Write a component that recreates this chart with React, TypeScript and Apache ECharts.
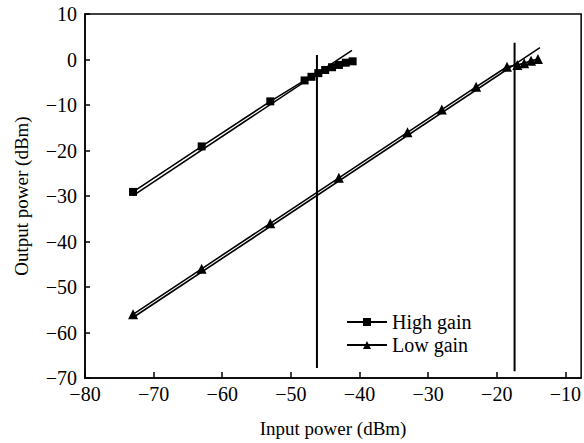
import React, { useEffect, useRef } from "react";
import * as echarts from "echarts";

const highGainX = [-73, -63, -53, -48, -47, -46, -45, -44, -43, -42, -41];
const highGainY = [-29.1, -19.1, -9.2, -4.6, -3.8, -3.0, -2.3, -1.7, -1.2, -0.7, -0.4];
const lowGainX = [-73, -63, -53, -43, -33, -28, -23, -18.5, -17, -16, -15, -14];
const lowGainY = [-56, -46, -36, -26, -16, -11, -6, -1.6, -1.2, -0.8, -0.3, 0.1];
const highFitX = [-73, -41.1];
const highFitY = [-29.9, 2.0];
const lowFitX = [-73, -13.7];
const lowFitY = [-56.7, 2.6];
const vLine1X = [-46.2, -46.2];
const vLine1Y = [1.0, -67.8];
const vLine2X = [-17.4, -17.4];
const vLine2Y = [3.7, -68.5];
const xTicks = [-80, -70, -60, -50, -40, -30, -20, -10];
const yTicks = [-70, -60, -50, -40, -30, -20, -10, 0, 10];

const zip = (xs: number[], ys: number[]) => xs.map((x, i) => [x, ys[i]]);
const FONT = "'Liberation Serif', 'Times New Roman', serif";
const fmt = (v: number) => String(v).replace("-", "\u2212");

export default function App() {
  const ref = useRef<HTMLDivElement>(null);
  useEffect(() => {
    if (!ref.current) return;
    const chart = echarts.init(ref.current, undefined, { renderer: "svg" });
    const plain = (data: number[][], width = 1.6) => ({
      type: "line",
      data,
      showSymbol: false,
      symbol: "none",
      lineStyle: { color: "#000", width },
      silent: true,
      z: 2,
    });
    chart.setOption({
      animation: false,
      textStyle: { fontFamily: FONT },
      grid: {
        left: 85,
        right: 2,
        top: 14,
        bottom: 63,
        show: true,
        borderColor: "#000",
        borderWidth: 1.5,
        backgroundColor: "transparent",
      },
      legend: {
        left: 341,
        top: 307,
        orient: "vertical",
        itemWidth: 40,
        itemHeight: 10,
        itemGap: 3,
        data: ["High gain", "Low gain"],
        textStyle: { fontFamily: FONT, fontSize: 20, color: "#000" },
      },
      xAxis: {
        type: "value",
        min: -80,
        max: -7.7,
        interval: 10,
        name: "Input power (dBm)",
        nameLocation: "middle",
        nameGap: 41,
        nameTextStyle: { fontFamily: FONT, fontSize: 19, color: "#000" },
        axisLine: { onZero: false, lineStyle: { color: "#000", width: 1.5 } },
        axisTick: { inside: true, length: 6, lineStyle: { color: "#000", width: 1.5 } },
        splitLine: { show: false },
        axisLabel: {
          color: "#000",
          fontSize: 20,
          fontFamily: FONT,
          margin: 6,
          showMaxLabel: false,
          formatter: (v: number) => (xTicks.includes(v) ? fmt(v) : ""),
        },
      },
      yAxis: {
        type: "value",
        min: -70,
        max: 10,
        interval: 10,
        name: "Output power (dBm)",
        nameLocation: "middle",
        nameGap: 54,
        nameTextStyle: { fontFamily: FONT, fontSize: 19, color: "#000" },
        axisLine: { onZero: false, lineStyle: { color: "#000", width: 1.5 } },
        axisTick: { inside: true, length: 5, lineStyle: { color: "#000", width: 1.5 } },
        splitLine: { show: false },
        axisLabel: {
          color: "#000",
          fontSize: 20,
          fontFamily: FONT,
          margin: 8,
          formatter: (v: number) => (yTicks.includes(v) ? fmt(v) : ""),
        },
      },
      series: [
        plain(zip(highFitX, highFitY)),
        plain(zip(lowFitX, lowFitY)),
        plain(zip(vLine1X, vLine1Y), 2),
        plain(zip(vLine2X, vLine2Y), 2),
        {
          name: "High gain",
          type: "line",
          data: zip(highGainX, highGainY),
          symbol: "rect",
          symbolSize: 8,
          itemStyle: { color: "#000" },
          lineStyle: { color: "#000", width: 1.6 },
          z: 3,
        },
        {
          name: "Low gain",
          type: "line",
          data: zip(lowGainX, lowGainY),
          symbol: "triangle",
          symbolSize: 10,
          itemStyle: { color: "#000" },
          lineStyle: { color: "#000", width: 1.6 },
          z: 3,
        },
      ],
    });
    return () => chart.dispose();
  }, []);
  return (
    <div
      ref={ref}
      style={{ position: "absolute", left: 0, top: 0, width: 584, height: 443 }}
    />
  );
}
